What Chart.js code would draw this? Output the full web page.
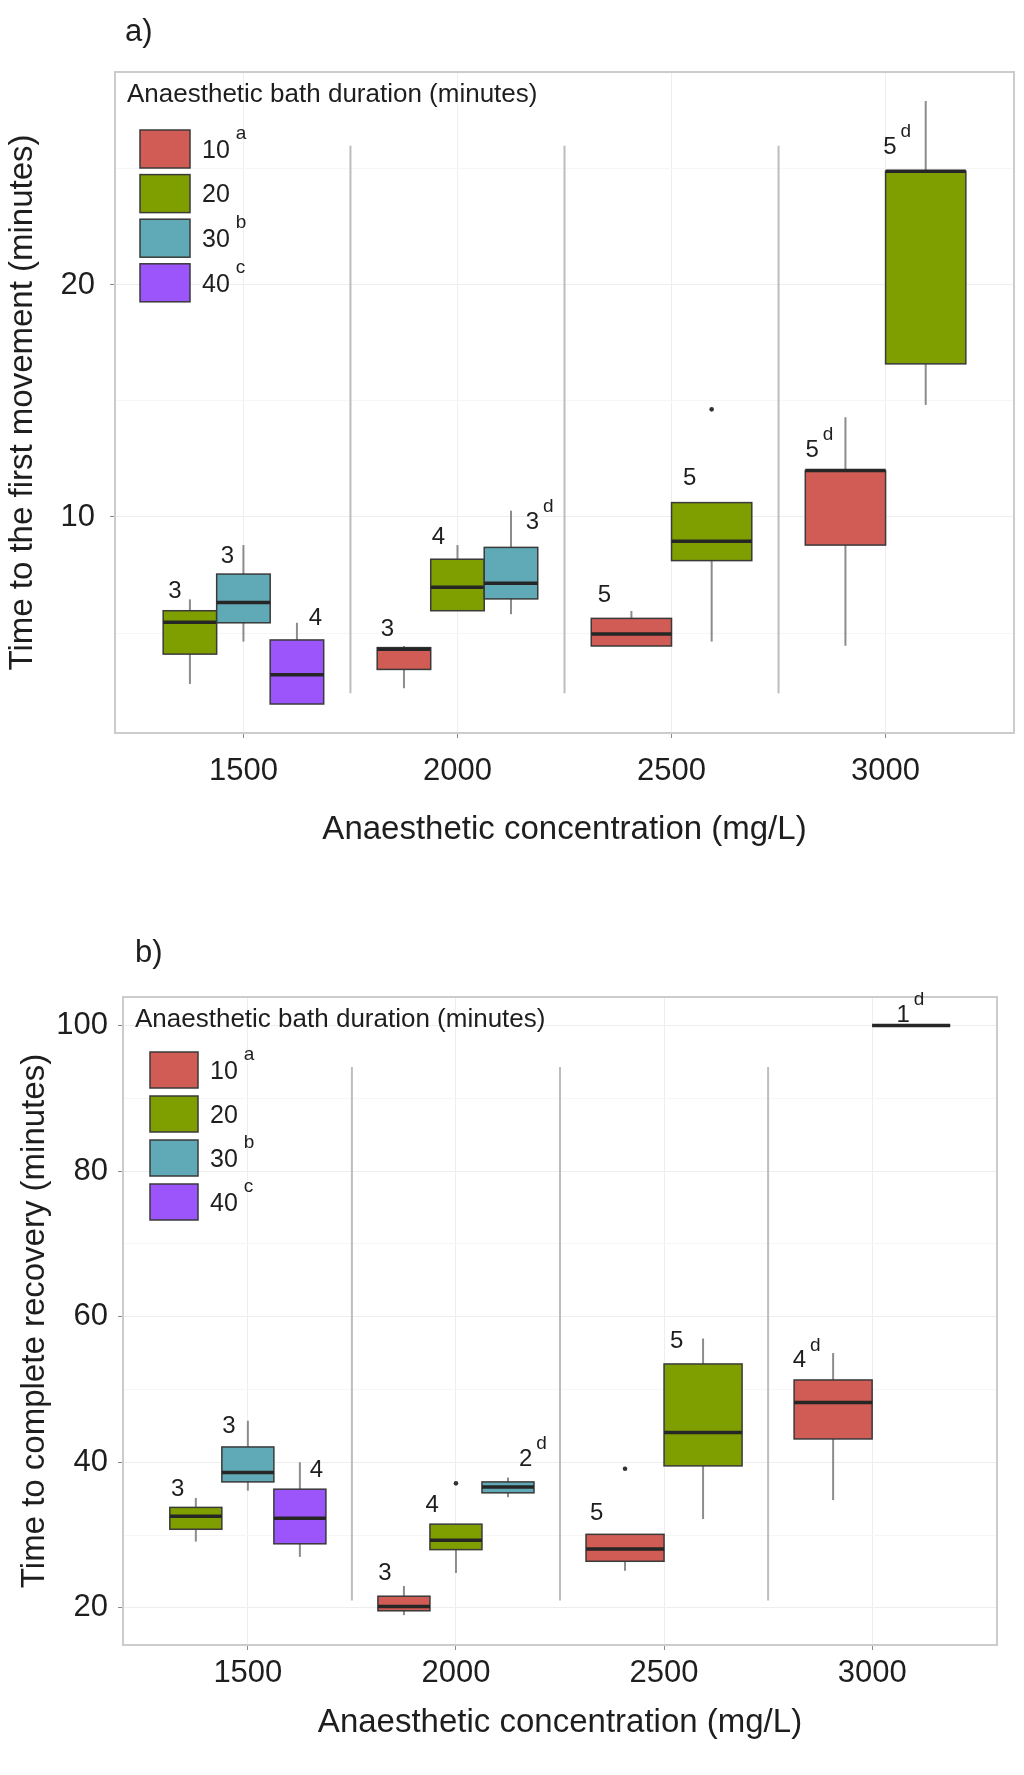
<!DOCTYPE html>
<html>
<head>
<meta charset="utf-8">
<script src="https://cdn.jsdelivr.net/npm/chart.js@4.4.1/dist/chart.umd.min.js"></script>
<style>
body { margin: 0; background: #fff; }
#wrapA { position: absolute; left: 0; top: 0; width: 1024px; height: 880px; }
#wrapB { position: absolute; left: 0; top: 880px; width: 1024px; height: 895px; }
</style>
</head>
<body>
<div id="wrapA"><canvas id="chartA"></canvas></div>
<div id="wrapB"><canvas id="chartB"></canvas></div>
<script>
const categories = ['1500', '2000', '2500', '3000'];
const durations = ['10', '20', '30', '40'];
const durationLetters = ['a', '', 'b', 'c'];
const durationColours = ['#D05C55', '#7F9F00', '#60AAB7', '#9B55FA'];

// a) time to the first movement
const concA = [0, 0, 0, 1, 1, 1, 2, 2, 3, 3];
const durA  = [1, 2, 3, 0, 1, 2, 0, 1, 0, 1];
const lowA  = [2.80, 4.63, 1.94, 2.62, 5.96, 5.81, 4.44, 4.63, 4.45, 14.83];
const q1A   = [4.09, 5.44, 1.94, 3.43, 5.96, 6.47, 4.44, 8.12, 8.79, 16.6];
const medA  = [5.46, 6.31, 3.20, 4.30, 6.97, 7.14, 4.96, 8.95, 12.0, 24.9];
const q3A   = [5.96, 7.54, 4.70, 4.37, 8.18, 8.69, 5.63, 10.62, 12.0, 24.9];
const highA = [6.45, 8.79, 5.44, 4.44, 8.79, 10.27, 5.95, 10.62, 14.30, 27.93];
const nA    = ['3', '3', '4', '3', '4', '3', '5', '5', '5', '5'];
const supA  = ['', '', '', '', '', 'd', '', '', 'd', 'd'];
const labelXA = [0.68, 0.925, 1.336, 1.673, 1.911, 2.35, 2.687, 3.085, 3.657, 4.02];
const labelYA = [6.81, 8.32, 5.65, 5.17, 9.14, 9.78, 6.64, 11.67, 12.89, 25.95];
const outConcA = [2];
const outDurA = [1];
const outValA = [14.64];
const yTicksA = [10, 20];
const yMinorA = [5, 15, 25];
const yRangeA = [0.69, 29.18];
const dividerA = [2.4, 26];

// b) time to complete recovery
const concB = [0, 0, 0, 1, 1, 1, 2, 2, 3, 3];
const durB  = [1, 2, 3, 0, 1, 2, 0, 1, 0, 1];
const lowB  = [29.1, 36.1, 27.0, 19.0, 24.8, 35.2, 25.1, 32.2, 34.8, 100];
const q1B   = [30.8, 37.3, 28.8, 19.6, 28.0, 35.8, 26.4, 39.5, 43.2, 100];
const medB  = [32.6, 38.6, 32.3, 20.2, 29.3, 36.6, 28.1, 44.1, 48.2, 100];
const q3B   = [33.8, 42.1, 36.3, 21.6, 31.5, 37.3, 30.1, 53.5, 51.3, 100];
const highB = [35.1, 45.7, 40.0, 23.0, 31.5, 37.9, 30.1, 57.0, 55.0, 100];
const nB    = ['3', '3', '4', '3', '4', '2', '5', '5', '4', '1'];
const supB  = ['', '', '', '', '', 'd', '', '', 'd', 'd'];
const labelXB = [0.663, 0.909, 1.33, 1.659, 1.886, 2.335, 2.676, 3.061, 3.65, 4.149];
const labelYB = [36.29, 44.89, 38.94, 24.8, 34.04, 40.41, 33.0, 56.56, 53.95, 101.4];
const outConcB = [1, 2];
const outDurB = [1, 0];
const outValB = [37.1, 39.1];
const yTicksB = [20, 40, 60, 80, 100];
const yMinorB = [30, 50, 70, 90];
const yRangeB = [14.9, 103.9];
const dividerB = [21, 94.3];

const FONT = "'Liberation Sans', Arial, sans-serif";
Chart.defaults.font.family = FONT;

// ggplot style dodge: boxes present at one concentration share 0.75 of the slot
function dodge(conc, dur) {
    return conc.map((c, i) => {
        let same = conc.map((cc, j) => cc === c ? j : -1).filter(j => j >= 0);
        same.sort((a, b) => dur[a] - dur[b]);
        let w = 0.75 / same.length;
        let k = same.indexOf(i);
        return { x: c + 1 - 0.375 + (k + 0.5) * w, w: w };
    });
}

function line(ctx, x0, y0, x1, y1) {
    ctx.beginPath();
    ctx.moveTo(x0, y0);
    ctx.lineTo(x1, y1);
    ctx.stroke();
}

function boxPlugin(p) {
    return {
        id: 'boxes',
        beforeDatasetsDraw(chart) {
            let ctx = chart.ctx, x = chart.scales.x, y = chart.scales.y, a = chart.chartArea;
            ctx.save();
            ctx.strokeStyle = '#CCCCCC';
            ctx.lineWidth = 2;
            ctx.strokeRect(a.left, a.top, a.right - a.left, a.bottom - a.top);

            ctx.strokeStyle = '#BDBDBD';
            ctx.lineWidth = 2;
            [1.5, 2.5, 3.5].forEach(v => {
                let px = x.getPixelForValue(v);
                line(ctx, px, y.getPixelForValue(p.divider[0]), px, y.getPixelForValue(p.divider[1]));
            });
            p.pos.forEach((b, i) => {
                let xc = x.getPixelForValue(b.x);
                let x0 = x.getPixelForValue(b.x - b.w / 2);
                let x1 = x.getPixelForValue(b.x + b.w / 2);
                let yLow = y.getPixelForValue(p.low[i]);
                let yQ1 = y.getPixelForValue(p.q1[i]);
                let yMed = y.getPixelForValue(p.med[i]);
                let yQ3 = y.getPixelForValue(p.q3[i]);
                let yHigh = y.getPixelForValue(p.high[i]);
                ctx.strokeStyle = '#8C8C8C';
                ctx.lineWidth = 2;
                line(ctx, xc, yHigh, xc, yQ3);
                line(ctx, xc, yQ1, xc, yLow);
                ctx.fillStyle = durationColours[p.dur[i]];
                ctx.fillRect(x0, yQ3, x1 - x0, yQ1 - yQ3);
                ctx.strokeStyle = '#3A3A3A';
                ctx.lineWidth = 1.5;
                ctx.strokeRect(x0, yQ3, x1 - x0, yQ1 - yQ3);
                ctx.strokeStyle = '#262626';
                ctx.lineWidth = 3.5;
                line(ctx, x0, yMed, x1, yMed);
            });
            ctx.restore();
        },
        afterDatasetsDraw(chart) {
            let ctx = chart.ctx, x = chart.scales.x, y = chart.scales.y;
            ctx.save();
            ctx.fillStyle = '#1E1E1E';
            ctx.textBaseline = 'middle';
            p.n.forEach((t, i) => {
                let px = x.getPixelForValue(p.labelX[i]);
                let py = y.getPixelForValue(p.labelY[i]);
                ctx.font = '24px ' + FONT;
                ctx.textAlign = 'center';
                ctx.fillText(t, px, py);
                if (p.sup[i]) {
                    let w = ctx.measureText(t).width;
                    ctx.font = '19px ' + FONT;
                    ctx.textAlign = 'left';
                    ctx.fillText(p.sup[i], px + w / 2 + 4, py - 15);
                }
            });
            ctx.restore();
        },
        afterDraw(chart) {
            let ctx = chart.ctx, a = chart.chartArea, L = p.legend;
            ctx.save();
            ctx.fillStyle = '#1E1E1E';
            ctx.textBaseline = 'middle';
            ctx.textAlign = 'left';
            ctx.font = '26px ' + FONT;
            ctx.fillText('Anaesthetic bath duration (minutes)', a.left + L.titleX, a.top + L.titleY);
            durations.forEach((d, i) => {
                let top = a.top + L.keyY + i * L.step;
                ctx.fillStyle = durationColours[i];
                ctx.fillRect(a.left + L.keyX, top, L.keyW, L.keyH);
                ctx.strokeStyle = '#3A3A3A';
                ctx.lineWidth = 1.5;
                ctx.strokeRect(a.left + L.keyX, top, L.keyW, L.keyH);
                ctx.fillStyle = '#1E1E1E';
                ctx.font = '25px ' + FONT;
                let tx = a.left + L.textX, ty = top + L.keyH / 2 + 2;
                ctx.fillText(d, tx, ty);
                if (durationLetters[i]) {
                    let w = ctx.measureText(d).width;
                    ctx.font = '19px ' + FONT;
                    ctx.fillText(durationLetters[i], tx + w + 6, ty - 17);
                }
            });

            ctx.font = '31px ' + FONT;
            ctx.fillText(p.letter, p.letterPos[0], p.letterPos[1]);
            ctx.restore();
        }
    };
}

function makeChart(id, p) {
    p.pos = dodge(p.conc, p.dur);
    let outliers = p.outConc.map((c, i) => {
        let k = p.conc.findIndex((cc, j) => cc === c && p.dur[j] === p.outDur[i]);
        return { x: p.pos[k].x, y: p.outVal[i] };
    });
    new Chart(document.getElementById(id), {
        type: 'scatter',
        data: {
            datasets: [{
                data: outliers,
                pointRadius: 2.3,
                pointBackgroundColor: '#333333',
                pointBorderWidth: 0
            }]
        },
        options: {
            responsive: true,
            maintainAspectRatio: false,
            devicePixelRatio: 1,
            animation: false,
            layout: { padding: { top: p.padTop, right: p.padRight, left: 0, bottom: 0 } },
            plugins: { legend: { display: false }, tooltip: { enabled: false } },
            scales: {
                x: {
                    type: 'linear',
                    min: 0.4,
                    max: 4.6,
                    afterBuildTicks: s => { s.ticks = categories.map((c, i) => ({ value: i + 1 })); },
                    afterFit: s => { s.height = p.xHeight; },
                    ticks: {
                        callback: v => categories[v - 1],
                        font: { size: 31 },
                        color: '#1E1E1E',
                        padding: p.xPad,
                        maxRotation: 0,
                        autoSkip: false
                    },
                    grid: { color: '#EEEEEE', lineWidth: 1, tickColor: '#8A8A8A', tickLength: 5 },
                    border: { display: false },
                    title: {
                        display: true,
                        text: 'Anaesthetic concentration (mg/L)',
                        font: { size: 33 },
                        color: '#1E1E1E',
                        padding: { top: 0, bottom: p.xTitlePad }
                    }
                },
                y: {
                    type: 'linear',
                    min: p.yRange[0],
                    max: p.yRange[1],
                    afterBuildTicks: s => {
                        s.ticks = p.yTicks.concat(p.yMinor).sort((a, b) => a - b).map(v => ({ value: v }));
                    },
                    afterFit: s => { s.width = p.yWidth; },
                    ticks: {
                        callback: v => p.yTicks.includes(v) ? String(v) : '',
                        font: { size: 31 },
                        color: '#1E1E1E',
                        padding: p.yPad,
                        autoSkip: false
                    },
                    grid: {
                        color: c => p.yTicks.includes(c.tick.value) ? '#EEEEEE' : '#F6F6F6',
                        lineWidth: 1,
                        tickColor: c => p.yTicks.includes(c.tick.value) ? '#8A8A8A' : 'rgba(0,0,0,0)',
                        tickLength: 5
                    },
                    border: { display: false },
                    title: {
                        display: true,
                        text: p.yTitle,
                        font: { size: 33 },
                        color: '#1E1E1E',
                        padding: { top: p.yTitlePad, bottom: 0 }
                    }
                }
            }
        },
        plugins: [boxPlugin(p)]
    });
}

makeChart('chartA', {
    conc: concA, dur: durA, low: lowA, q1: q1A, med: medA, q3: q3A, high: highA,
    n: nA, sup: supA, labelX: labelXA, labelY: labelYA,
    outConc: outConcA, outDur: outDurA, outVal: outValA,
    yTicks: yTicksA, yMinor: yMinorA, yRange: yRangeA, divider: dividerA,
    yTitle: 'Time to the first movement (minutes)',
    letter: 'a)', letterPos: [125, 32],
    padTop: 72, padRight: 10, yWidth: 115, xHeight: 147,
    xPad: 15, yPad: 15, xTitlePad: 30, yTitlePad: 3,
    legend: { titleX: 12, titleY: 23, keyX: 25, keyY: 58, keyW: 50, keyH: 38, step: 44.6, textX: 87 }
});

makeChart('chartB', {
    conc: concB, dur: durB, low: lowB, q1: q1B, med: medB, q3: q3B, high: highB,
    n: nB, sup: supB, labelX: labelXB, labelY: labelYB,
    outConc: outConcB, outDur: outDurB, outVal: outValB,
    yTicks: yTicksB, yMinor: yMinorB, yRange: yRangeB, divider: dividerB,
    yTitle: 'Time to complete recovery (minutes)',
    letter: 'b)', letterPos: [135, 73],
    padTop: 117, padRight: 27, yWidth: 123, xHeight: 130,
    xPad: 5, yPad: 10, xTitlePad: 32, yTitlePad: 15,
    legend: { titleX: 12, titleY: 23, keyX: 27, keyY: 55, keyW: 48, keyH: 36, step: 44, textX: 87 }
});
</script>
</body>
</html>
